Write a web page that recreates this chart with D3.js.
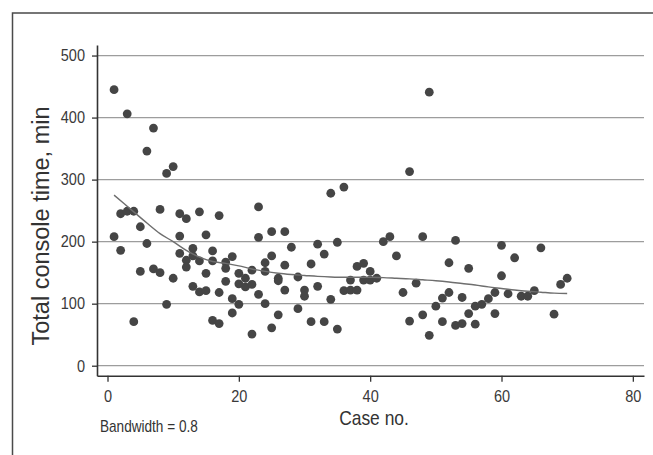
<!DOCTYPE html>
<html><head><meta charset="utf-8">
<script src="https://cdn.jsdelivr.net/npm/d3@7"></script>
<style>html,body{margin:0;padding:0;background:#fff;} svg{display:block}</style>
</head><body><svg id="c" width="653" height="455"></svg>
<script>
// Data
const caseNo = [1,1,2,2,3,3,4,4,5,5,6,6,7,7,8,8,9,9,10,10,
  11,11,11,12,12,12,13,13,13,14,14,14,15,15,15,16,16,16,17,17,17,18,18,18,19,19,19,20,20,20,
  21,21,22,22,22,23,23,23,24,24,24,25,25,25,26,26,26,27,27,27,28,29,29,30,30,
  31,31,32,32,33,33,34,34,35,35,36,36,37,37,38,38,39,39,40,40,41,42,43,44,45,
  46,46,47,48,48,49,49,50,51,51,52,52,53,53,54,54,55,55,56,56,57,58,59,59,60,60,
  61,62,63,64,65,66,68,69,70];
const consoleMin = [445,208,245,186,406,249,249,71,224,152,346,197,383,156,252,150,310,99,321,141,
  245,209,181,237,170,159,189,177,128,248,169,119,211,149,121,185,169,73,242,118,68,167,157,136,176,108,85,149,132,99,
  141,127,154,131,51,256,207,115,166,152,100,216,177,61,141,137,82,216,162,122,191,143,92,122,112,
  164,71,196,128,180,71,278,107,199,59,288,121,138,122,160,122,165,138,152,138,141,200,208,177,118,
  313,72,133,208,82,441,49,96,109,71,166,118,202,65,110,68,157,84,96,67,99,108,118,84,194,145,
  116,174,112,112,121,190,83,131,141];
// Lowess smooth (bandwidth 0.8)
const smoothCase = [1,4,6,8,10,12,14,16,18,20,22,24,26,28,30,32,34,36,38,40,42,44,46,48,50,52,54,56,58,60,62,64,66,68,70];
const smoothMin  = [275,248,230,213,200,186,175,168,165,161,156,152,149,147,145.5,144,143,142.5,142.5,142.5,142,141,140,138.5,137,135,132.5,130,127,124.5,122,120,118.5,117,116.5];
const xTicks = [0,20,40,60,80];
const yTicks = [0,100,200,300,400,500];

const svg = d3.select("#c");
const sans = "'Liberation Sans',Arial,Helvetica,sans-serif";
const sxTick = 0.88, sxText = 0.85; // horizontal squeeze to mimic a condensed face

// outer frame (top and left)
svg.append("path").attr("d","M12.5,455 L12.5,13 L653,13")
  .attr("fill","none").attr("stroke","#4a4a4a").attr("stroke-width",1.5);

const x = d3.scaleLinear().domain([-1.6, 81.7]).range([97, 644]);
const y = d3.scaleLinear().domain([-16.1, 517]).range([375.7, 45]);

// gridlines
svg.append("g").selectAll("line").data(yTicks).join("line")
  .attr("x1", 97).attr("x2", 644)
  .attr("y1", d => y(d)).attr("y2", d => y(d))
  .attr("stroke", "#9d9d9d").attr("stroke-width", 1.2);

// axes
const gy = svg.append("g").attr("transform","translate(97,0)")
  .call(d3.axisLeft(y).tickValues(yTicks).tickSize(5).tickSizeOuter(0).tickPadding(7));
const gx = svg.append("g").attr("transform","translate(0,375.7)")
  .call(d3.axisBottom(x).tickValues(xTicks).tickSize(6).tickSizeOuter(0).tickPadding(9));
[gx, gy].forEach(g => {
  g.select(".domain").attr("stroke","#333").attr("stroke-width",1.6);
  g.selectAll(".tick line").attr("stroke","#333").attr("stroke-width",1.3);
  g.selectAll(".tick text").attr("fill","#3a3a3a").style("font-family", sans).style("font-size","16.5px");
});
gx.selectAll(".tick text").attr("transform", `scale(${sxTick},1)`);
gy.selectAll(".tick text").attr("x", -12 / sxTick).attr("transform", `scale(${sxTick},1)`);

// points
svg.append("g").selectAll("circle").data(caseNo).join("circle")
  .attr("cx", (d) => x(d)).attr("cy", (d, i) => y(consoleMin[i]))
  .attr("r", 4.4).attr("fill", "#454545");

// smooth line
const line = d3.line().x(d => x(d)).y((d, i) => y(smoothMin[i])).curve(d3.curveMonotoneX);
svg.append("path").datum(smoothCase).attr("d", line)
  .attr("fill","none").attr("stroke","#6e6e6e").attr("stroke-width",1.4);

// titles
svg.append("text").attr("transform","translate(49,226) rotate(-90)")
  .attr("text-anchor","middle").attr("fill","#333")
  .style("font-family", sans).style("font-size","23.5px")
  .text("Total console time, min");
svg.append("text").attr("x", 374 / sxText).attr("y", 425).attr("transform", `scale(${sxText},1)`)
  .attr("text-anchor","middle").attr("fill","#333")
  .style("font-family", sans).style("font-size","20.5px").text("Case no.");
svg.append("text").attr("x", 100 / sxText).attr("y", 432).attr("transform", `scale(${sxText},1)`)
  .attr("fill","#333")
  .style("font-family", sans).style("font-size","16px").text("Bandwidth = 0.8");
</script></body></html>
